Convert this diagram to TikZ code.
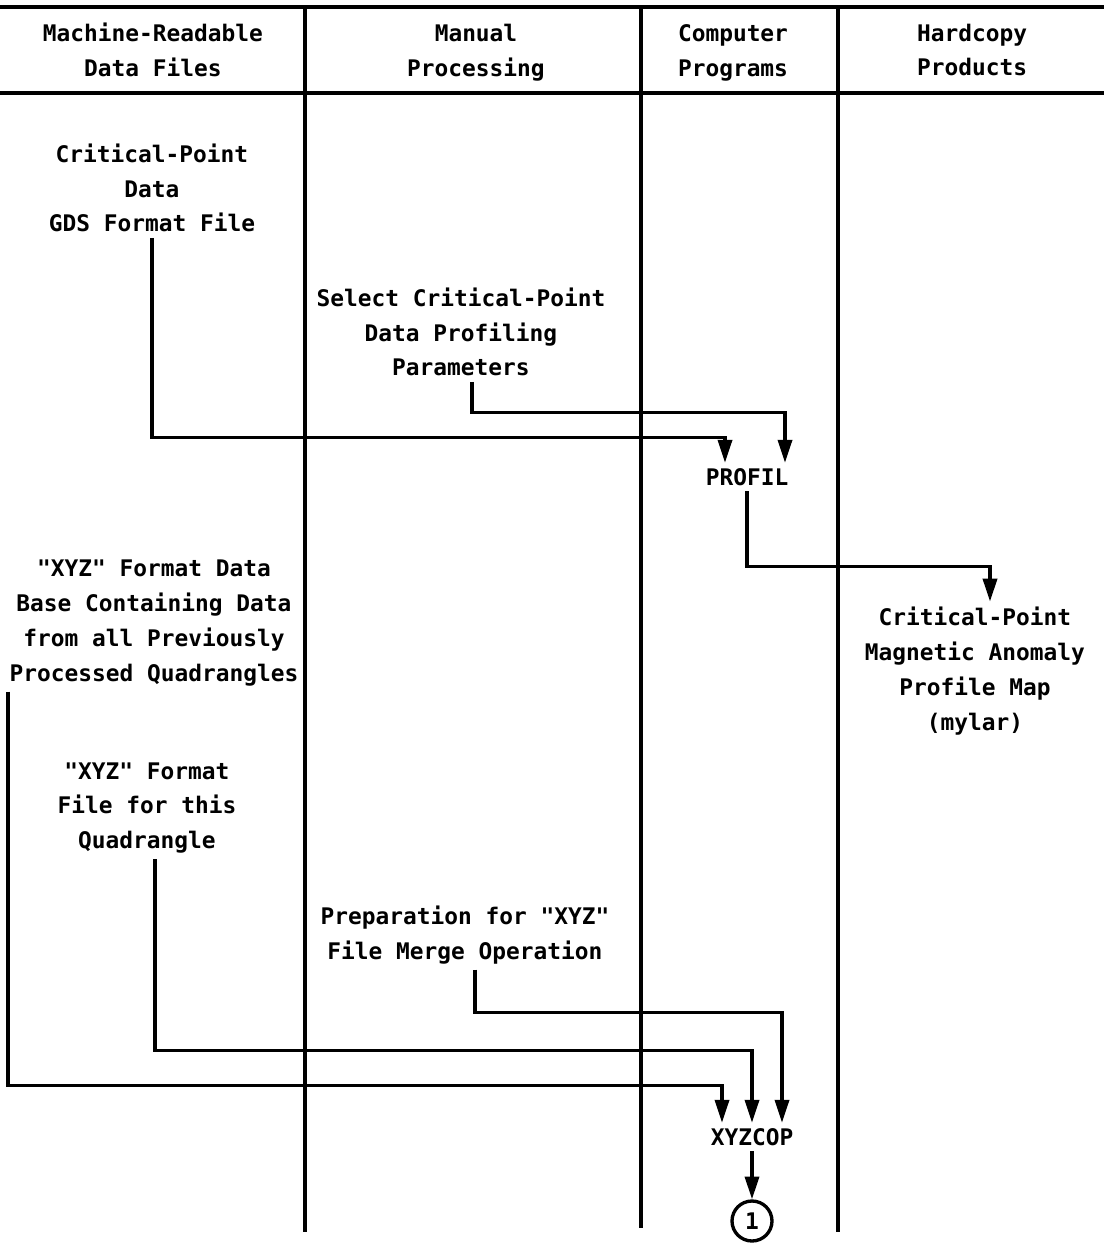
\documentclass[tikz,border=0pt]{standalone}
\usepackage{fontspec}
\newfontfamily\flowfont{DejaVu Sans Mono}
\usepackage{tikz}
\usetikzlibrary{arrows.meta, calc}

\begin{document}
\begin{tikzpicture}[
  x=0.02cm, y=-0.02cm,
  item/.style={font=\flowfont\bfseries\fontsize{13}{19.8}\selectfont,
               align=center, inner sep=3pt},
  rule/.style={line width=1.9pt},
  flow/.style={-{Triangle[length=13pt,width=8pt]}, line width=1.9pt},
  ref/.style={item, draw, circle, line width=1.9pt, minimum size=0.8cm, inner sep=0pt},
]
  \useasboundingbox (0,0) rectangle (1104,1252);

  % Lanes
  \draw[rule] (0,7) -- (1104,7);
  \draw[rule] (0,93) -- (1104,93);
  \draw[rule] (305,7) -- (305,1232);
  \draw[rule] (641,7) -- (641,1228);
  \draw[rule] (838,7) -- (838,1232);

  % Header
  \node[item] (hmachine) at (153,50) {Machine-Readable\\Data Files};
  \node[item] (hmanual) at (476,53) {Manual\\Processing};
  \node[item] (hprog) at (733,53) {Computer\\Programs};
  \node[item] (hcopy) at (972,50) {Hardcopy\\Products};

  % Steps
  \node[item] (cpdata) at (152,188) {Critical-Point\\Data\\GDS Format File};
  \node[item] (select) at (461,332) {Select Critical-Point\\Data Profiling\\Parameters};
  \node[item] (profil) at (747,477) {PROFIL};
  \node[item] (map) at (975,671) {Critical-Point\\Magnetic Anomaly\\Profile Map\\(mylar)};
  \node[item] (xyzbase) at (154,623) {"XYZ" Format Data\\Base Containing Data\\from all Previously\\Processed Quadrangles};
  \node[item] (xyzfile) at (147,808) {"XYZ" Format\\File for this\\Quadrangle};
  \node[item] (prep) at (465,935) {Preparation for "XYZ"\\File Merge Operation};
  \node[item] (xyzcop) at (752,1137) {XYZCOP};
  \node[ref] (cont) at (752,1221) {1};

  % Profiling
  \draw[flow] (cpdata.south) |- ($(profil.north)+(-22,-25)$) -- ($(profil.north)+(-22,0)$);
  \draw[flow] ($(select.south)+(11,0)$) |- ($(profil.north)+(38,-50)$) -- ($(profil.north)+(38,0)$);
  \draw[flow] (profil.south) |- ($(map.north)+(15,-35)$) -- ($(map.north)+(15,0)$);

  % Merge
  \draw[flow] ($(xyzbase.south)+(-146,0)$) |- ($(xyzcop.north)+(-30,-37)$) -- ($(xyzcop.north)+(-30,0)$);
  \draw[flow] ($(xyzfile.south)+(8,0)$) |- ($(xyzcop.north)+(0,-72)$) -- (xyzcop.north);
  \draw[flow] ($(prep.south)+(10,0)$) |- ($(xyzcop.north)+(30,-110)$) -- ($(xyzcop.north)+(30,0)$);
  \draw[flow] (xyzcop) -- (cont);
\end{tikzpicture}
\end{document}
